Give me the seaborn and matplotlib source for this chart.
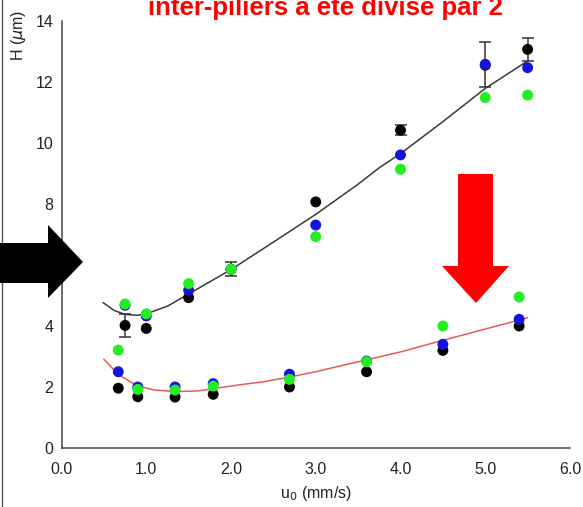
import numpy as np
import pandas as pd
import matplotlib
matplotlib.use("Agg")
import matplotlib.pyplot as plt
from matplotlib.patches import Polygon
import seaborn as sns

# ---- data ----
upper_x = [0.75, 1.0, 1.5, 2.0, 3.0, 4.0, 5.0, 5.5]
upper_black = [4.02, 3.92, 4.93, 5.86, 8.07, 10.42, 12.55, 13.07]
upper_blue = [4.68, 4.33, 5.17, 5.86, 7.31, 9.61, 12.58, 12.47]
upper_green = [4.72, 4.40, 5.39, 5.86, 6.93, 9.14, 11.49, 11.57]

lower_x = [0.67, 0.9, 1.34, 1.79, 2.69, 3.6, 4.5, 5.4]
lower_black = [1.96, 1.68, 1.67, 1.76, 2.00, 2.50, 3.20, 4.00]
lower_blue = [2.50, 2.00, 2.00, 2.11, 2.42, 2.85, 3.40, 4.22]
lower_green = [3.21, 1.92, 1.90, 2.03, 2.25, 2.83, 4.00, 4.95]

err_x = [0.75, 2.0, 4.0, 5.0, 5.5]
err_y = [4.02, 5.86, 10.42, 12.57, 13.07]
err_size = [0.38, 0.23, 0.17, 0.75, 0.38]

fit_black_x = [0.49, 0.62, 0.75, 0.9, 1.05, 1.25, 1.5, 1.75, 2.0, 2.5, 3.0, 3.5, 3.75, 4.0, 4.5, 5.0, 5.5]
fit_black_y = [4.77, 4.51, 4.38, 4.35, 4.45, 4.65, 5.05, 5.45, 5.85, 6.75, 7.66, 8.65, 9.19, 9.65, 10.7, 11.79, 12.69]

fit_red_x = [0.5, 0.67, 0.9, 1.1, 1.34, 1.6, 1.8, 2.1, 2.4, 2.7, 3.0, 3.3, 3.6, 4.0, 4.5, 5.0, 5.5]
fit_red_y = [2.91, 2.41, 2.03, 1.90, 1.85, 1.87, 1.95, 2.07, 2.18, 2.33, 2.50, 2.70, 2.89, 3.15, 3.53, 3.90, 4.27]

x_ticks = [0, 1, 2, 3, 4, 5, 6]
x_tick_labels = ["0.0", "1.0", "2.0", "3.0", "4.0", "5.0", "6.0"]
y_ticks = [0, 2, 4, 6, 8, 10, 12, 14]
y_tick_labels = ["0", "2", "4", "6", "8", "10", "12", "14"]

title_text = "inter-piliers a été divisé par 2"
x_label = "u$_0$ (mm/s)"
y_label = "H ($\\mu$m)"

# ---- build table ----
rows = []
for name, xs, ys in [("black", upper_x, upper_black), ("black", lower_x, lower_black),
                     ("blue", upper_x, upper_blue), ("blue", lower_x, lower_blue),
                     ("green", upper_x, upper_green), ("green", lower_x, lower_green)]:
    for xv, yv in zip(xs, ys):
        rows.append({"u0": xv, "H": yv, "series": name})
df = pd.DataFrame(rows)

sns.set_style("white")
plt.rcParams["font.family"] = ["Liberation Sans", "DejaVu Sans"]
plt.rcParams["mathtext.fontset"] = "dejavusans"

W, H = 583, 507
fig = plt.figure(figsize=(W / 100, H / 100), dpi=100)
ax = fig.add_axes([61.5 / W, 1 - 448 / H, (570 - 61.5) / W, (448 - 21) / H])

# fit curves
sns.lineplot(x=fit_black_x, y=fit_black_y, ax=ax, color="#3a3a3a", linewidth=1.1, sort=False, zorder=2)
sns.lineplot(x=fit_red_x, y=fit_red_y, ax=ax, color="#e85a5a", linewidth=1.1, sort=False, zorder=2)

# error bars
ax.errorbar(err_x, err_y, yerr=err_size, fmt="none", ecolor="#333333",
            elinewidth=1.1, capsize=4.5, capthick=1.1, zorder=3)

# points
palette = {"black": "#050505", "blue": "#1414dc", "green": "#22ee22"}
sns.scatterplot(data=df, x="u0", y="H", hue="series", palette=palette,
                s=62, linewidth=0, ax=ax, legend=False, zorder=4)

ax.set_xlim(0, 6)
ax.set_ylim(0, 14)
ax.set_xticks(x_ticks)
ax.set_xticklabels(x_tick_labels)
ax.set_yticks(y_ticks)
ax.set_yticklabels(y_tick_labels)
ax.tick_params(direction="in", length=4, width=1, colors="#444444", labelsize=11.5,
               labelcolor="#222222")
ax.tick_params(axis="x", pad=10)
ax.tick_params(axis="y", pad=6)
for s in ["top", "right"]:
    ax.spines[s].set_visible(False)
for s in ["left", "bottom"]:
    ax.spines[s].set_color("#444444")
    ax.spines[s].set_linewidth(1.1)
ax.set_xlabel(x_label, fontsize=11.5, color="#222222", labelpad=5)
ax.set_ylabel("")

fig.text(19 / W, 1 - 35 / H, y_label, rotation=90, ha="center", va="center",
         fontsize=11.5, color="#222222")

# title (cropped at top)
fig.text(325 / W, 1 - 15 / H, title_text, ha="center", va="baseline",
         fontsize=18.5, fontweight="bold", color="#ff0000")

# black arrow on the left
def fig_pts(pts):
    return [(x / W, 1 - y / H) for x, y in pts]

black_arrow = Polygon(fig_pts([(0, 243), (48, 243), (48, 225), (83, 262),
                               (48, 298), (48, 283), (0, 283)]),
                      closed=True, transform=fig.transFigure, facecolor="black",
                      edgecolor="none", zorder=10)
fig.patches.append(black_arrow)

red_arrow = Polygon(fig_pts([(458, 174), (493, 174), (493, 266), (509, 266),
                             (476, 303), (442, 266), (458, 266)]),
                    closed=True, transform=fig.transFigure, facecolor="#ff0000",
                    edgecolor="none", zorder=10)
fig.patches.append(red_arrow)

# thin edge line at the left border
fig.add_artist(plt.Line2D([2 / W, 2 / W], [0, 1], transform=fig.transFigure,
                          color="#555555", linewidth=1.0, zorder=1))

fig.savefig("out.png", dpi=100)
